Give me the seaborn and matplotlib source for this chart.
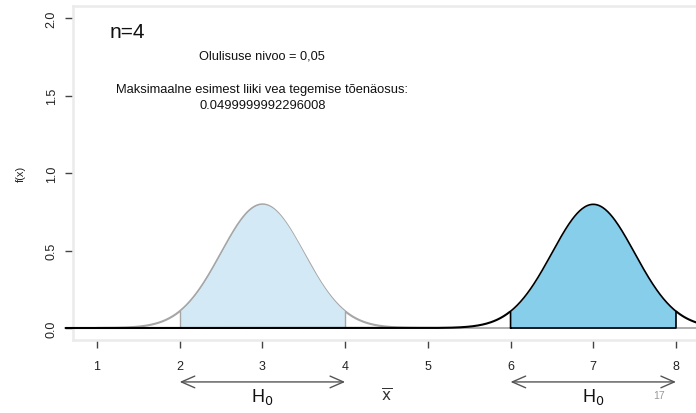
import numpy as np
import pandas as pd
import matplotlib
matplotlib.use("Agg")
import matplotlib.pyplot as plt
import seaborn as sns

# ---- data ----
n = 4
sigma = 1.0
means = [3, 7]                    # H0 mean (left, gray) and alternative (right, black)
regions = [(2, 4), (6, 8)]        # shaded acceptance regions
x_ticks = [1, 2, 3, 4, 5, 6, 7, 8]
y_ticks = [0.0, 0.5, 1.0, 1.5, 2.0]
y_tick_labels = ["0.0", "0.5", "1.0", "1.5", "2.0"]
alpha_text = "Olulisuse nivoo = 0,05"
max_err_text = "Maksimaalne esimest liiki vea tegemise tõenäosus:\n0.0499999992296008"
n_text = "n=4"

sd = sigma / np.sqrt(n)

def pdf(x, m):
    return np.exp(-0.5 * ((x - m) / sd) ** 2) / (sd * np.sqrt(2 * np.pi))

sns.set_theme(style="white")
plt.rcParams["font.family"] = ["Liberation Sans", "DejaVu Sans"]

fig = plt.figure(figsize=(6.96, 4.14), dpi=100)
ax = fig.add_axes([73 / 696, 72.6 / 414, 1 - 73 / 696, 334.8 / 414])

xlo, xhi = 0.71, 8.242
ax.set_xlim(xlo, xhi)
ax.set_ylim(-0.08, 2.08)

# baseline
ax.plot([xlo, xhi], [0, 0], color="#a8a8a8", lw=1.3, zorder=1)

# gray curve (mean 3)
xg = np.linspace(1.0, 5.2, 300)
dfg = pd.DataFrame({"x": xg, "y": pdf(xg, means[0])})
sns.lineplot(data=dfg, x="x", y="y", ax=ax, color="#a6a6a6", lw=1.5, zorder=2)

# shaded region left
a, b = regions[0]
xs = np.linspace(a, b, 200)
ax.fill_between(xs, 0, pdf(xs, means[0]), color="#d3eaf6", lw=0, zorder=2)
ax.plot([a, a], [0, pdf(a, means[0])], color="#a6a6a6", lw=1.0, zorder=3)
ax.plot([b, b], [0, pdf(b, means[0])], color="#a6a6a6", lw=1.0, zorder=3)

# black curve (mean 7)
xb = np.linspace(0.62, 8.3, 600)
dfb = pd.DataFrame({"x": xb, "y": pdf(xb, means[1])})
sns.lineplot(data=dfb[dfb.x <= 6], x="x", y="y", ax=ax, color="black", lw=1.5, zorder=4)
sns.lineplot(data=dfb[dfb.x >= 8], x="x", y="y", ax=ax, color="black", lw=1.5, zorder=4)
ax.lines[-2].set_clip_on(False)

a, b = regions[1]
xs = np.linspace(a, b, 200)
ys = pdf(xs, means[1])
ax.fill_between(xs, 0, ys, color="#87ceeb", lw=0, zorder=3)
px = np.concatenate([[a], xs, [b, a]])
py = np.concatenate([[0], ys, [0, 0]])
ax.plot(px, py, color="black", lw=1.2, zorder=4)

# spines
for s in ["left", "top", "bottom"]:
    ax.spines[s].set_color("#ebebeb")
    ax.spines[s].set_linewidth(1.8)
ax.spines["right"].set_visible(False)

ax.set_xticks(x_ticks)
ax.set_xticklabels([str(t) for t in x_ticks])
ax.set_yticks(y_ticks)
ax.set_yticklabels(y_tick_labels, rotation=90, va="center")
ax.tick_params(axis="both", which="both", direction="out", length=6, width=1.0,
               color="#444444", labelsize=9, labelcolor="#222222", pad=8)
ax.tick_params(axis="y", pad=5)
ax.tick_params(axis="x", bottom=True)
ax.tick_params(axis="y", left=True)
ax.set_xlabel("")
ax.set_ylabel("f(x)", fontsize=8, labelpad=14, color="#222222")

# texts
ax.text(1.157, 1.916, n_text, fontsize=15, ha="left", va="center", color="#111111")
ax.text(3.0, 1.755, alpha_text, fontsize=9.2, ha="center", va="center", color="#111111")
ax.text(3.0, 1.49, max_err_text, fontsize=9.3, ha="center", va="center",
        color="#111111", linespacing=1.4)

# arrows and H0 labels
for (a, b), m in zip(regions, means):
    ax.annotate("", xy=(a, -0.348), xytext=(b, -0.348), xycoords="data",
                annotation_clip=False,
                arrowprops=dict(arrowstyle="<->,head_length=0.8,head_width=0.35",
                                color="#555555", lw=1.0, shrinkA=0, shrinkB=0))
    ax.text(m, -0.44, r"H$_0$", fontsize=13, ha="center", va="center",
            color="#111111", clip_on=False)

ax.text(4.5, -0.435, r"$\overline{\mathrm{x}}$", fontsize=11, ha="center", va="center",
        color="#333333", clip_on=False)
fig.text(659 / 696, 1 - 396 / 414, "17", fontsize=7.5, color="#999999",
         ha="center", va="center")

fig.savefig("out.png", dpi=100)
